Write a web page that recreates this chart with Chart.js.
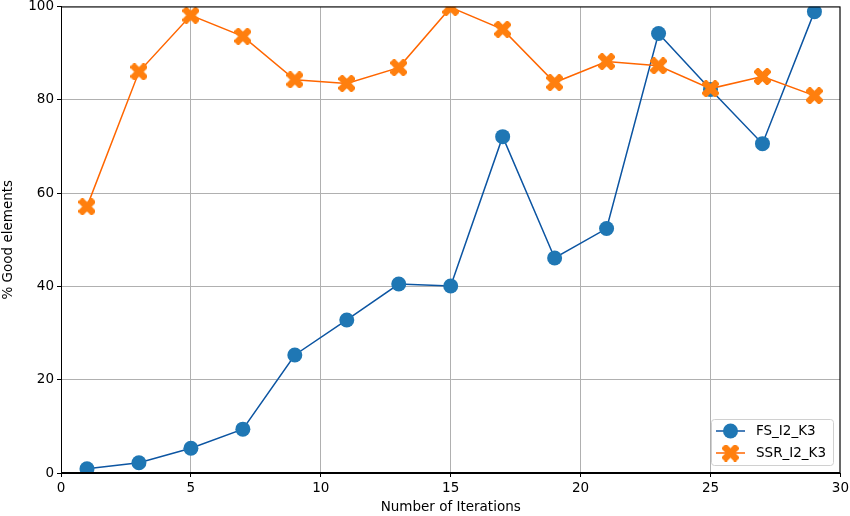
<!DOCTYPE html>
<html>
<head>
<meta charset="utf-8">
<script src="https://cdn.jsdelivr.net/npm/chart.js@4/dist/chart.umd.min.js"></script>
<style>
html,body{margin:0;padding:0;background:#fff;overflow:hidden;}
#wrap{width:850px;height:516px;position:relative;overflow:hidden;}
#c{position:absolute;left:0;top:-4px;}
</style>
</head>
<body>
<div id="wrap"><canvas id="c" width="852" height="520"></canvas></div>
<script>
const iterations = [1,3,5,7,9,11,13,15,17,19,21,23,25,27,29];
const fsValues  = [0.9,2.2,5.3,9.4,25.3,32.8,40.5,40.1,72.1,46.1,52.4,94.2,82.2,70.6,98.9];
const ssrValues = [57.1,86.0,98.1,93.6,84.3,83.5,86.9,99.8,95.1,83.7,88.2,87.3,82.4,85.0,80.9];
const xTicks = [0,5,10,15,20,25,30];
const yTicks = [0,20,40,60,80,100];
const seriesNames = ['FS_I2_K3','SSR_I2_K3'];

const FONT = "'DejaVu Sans', sans-serif";
const SHIFT = 4; // canvas is offset upward by this many px

function makeX(size, color){
  const c = document.createElement('canvas');
  c.width = size; c.height = size;
  const g = c.getContext('2d');
  const s = size, t = s*0.2, m = s/2;
  g.translate(m,m); g.rotate(Math.PI/4);
  const L = s*0.58;
  g.fillStyle = color;
  g.beginPath();
  g.moveTo(-t,-L); g.lineTo(t,-L); g.lineTo(t,-t); g.lineTo(L,-t); g.lineTo(L,t);
  g.lineTo(t,t); g.lineTo(t,L); g.lineTo(-t,L); g.lineTo(-t,t); g.lineTo(-L,t);
  g.lineTo(-L,-t); g.lineTo(-t,-t); g.closePath(); g.fill();
  return c;
}
const xMarker = makeX(17,'#ff7f0e');

const fsLine = '#0c55a2', fsFill = '#1f77b4';
const ssrLine = '#ff6600', ssrFill = '#ff7f0e';

const framePlugin = {
  id:'frame',
  afterDraw(chart){
    const {ctx, chartArea:a} = chart;
    ctx.save();
    ctx.strokeStyle = '#000'; ctx.lineWidth = 1;
    ctx.strokeRect(a.left+0.5, a.top+0.5, a.right-a.left-1, a.bottom-a.top-1);
    const bx = 711, by = 419 + SHIFT, bw = 122, bh = 46;
    ctx.fillStyle = 'rgba(255,255,255,0.85)';
    ctx.strokeStyle = '#d0d0d0';
    ctx.beginPath();
    ctx.roundRect(bx+0.5, by+0.5, bw, bh, 3);
    ctx.fill(); ctx.stroke();
    const rows = [
      {y: by+12, line: fsLine, name: seriesNames[0], circle:true},
      {y: by+34, line: ssrLine, name: seriesNames[1], circle:false}
    ];
    rows.forEach(r=>{
      ctx.strokeStyle = r.line; ctx.lineWidth = 1.5;
      ctx.beginPath(); ctx.moveTo(bx+5, r.y); ctx.lineTo(bx+34, r.y); ctx.stroke();
      if(r.circle){
        ctx.fillStyle = fsFill; ctx.beginPath(); ctx.arc(bx+19.5, r.y, 7.5, 0, Math.PI*2); ctx.fill();
      } else {
        ctx.drawImage(xMarker, bx+19.5-8.5, r.y-8.5);
      }
      ctx.fillStyle = '#000'; ctx.font = '13.5px '+FONT;
      ctx.textBaseline = 'middle'; ctx.textAlign = 'left';
      ctx.fillText(r.name, bx+45, r.y);
    });
    ctx.restore();
  }
};

new Chart(document.getElementById('c'), {
  type:'line',
  data:{
    datasets:[
      {label:seriesNames[0], data: iterations.map((x,i)=>({x, y: fsValues[i]})),
       borderColor: fsLine, backgroundColor: fsFill, borderWidth:1.5,
       pointRadius:7.5, pointHoverRadius:7.5, pointBackgroundColor: fsFill, pointBorderColor: fsFill, pointBorderWidth:0,
       tension:0, order:2},
      {label:seriesNames[1], data: iterations.map((x,i)=>({x, y: ssrValues[i]})),
       borderColor: ssrLine, backgroundColor: ssrFill, borderWidth:1.5,
       pointStyle: xMarker, pointRadius:9, pointHoverRadius:9,
       tension:0, order:1}
    ]
  },
  options:{
    responsive:false, animation:false,
    layout:{padding:{top:7, right:7, left:0, bottom:0}},
    plugins:{legend:{display:false}, tooltip:{enabled:false}},
    scales:{
      x:{type:'linear', min:0, max:30,
         afterBuildTicks(s){ s.ticks = xTicks.map(v=>({value:v})); },
         afterFit(s){ s.height = 43; },
         grid:{color:'#b0b0b0', lineWidth:1, tickLength:4, tickColor:'#000', drawOnChartArea:true},
         border:{display:true, color:'#000', width:1},
         ticks:{color:'#000', font:{family:FONT, size:13.5}, padding:3, maxRotation:0},
         title:{display:true, text:'Number of Iterations', color:'#000', font:{family:FONT, size:13.5}, padding:{top:0,bottom:0}}
      },
      y:{type:'linear', min:0, max:100,
         afterBuildTicks(s){ s.ticks = yTicks.map(v=>({value:v})); },
         afterFit(s){ s.width = 61; },
         grid:{color:'#b0b0b0', lineWidth:1, tickLength:4, tickColor:'#000'},
         border:{display:true, color:'#000', width:1},
         ticks:{color:'#000', font:{family:FONT, size:13.5, lineHeight:0.5}, padding:3},
         title:{display:true, text:'% Good elements', color:'#000', font:{family:FONT, size:13.5}, padding:{top:0,bottom:2}}
      }
    }
  },
  plugins:[framePlugin]
});
</script>
</body>
</html>
